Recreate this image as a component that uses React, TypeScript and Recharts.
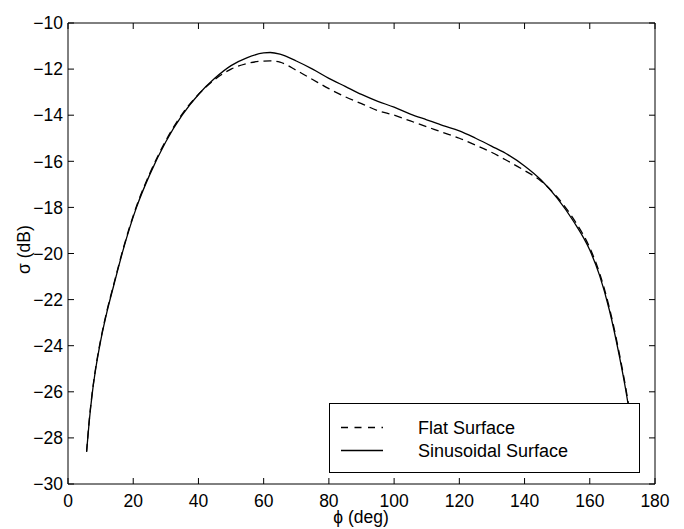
import React from 'react'
import { LineChart, Line, XAxis, YAxis } from 'recharts'

// Sinusoidal surface (solid)
const phiSin = [5.7, 6.5, 7.5, 8.5, 10, 12, 14, 17, 21, 25, 30, 35, 40, 45, 50, 55, 60, 62, 65, 70, 75, 80, 85, 90, 95, 100, 105, 110, 115, 120, 125, 130, 135, 140, 145, 150, 155, 160, 163, 166, 169, 171, 172, 173, 174]
const sigmaSin = [-28.6, -27.3, -26.0, -25.0, -23.8, -22.5, -21.4, -19.8, -18.0, -16.6, -15.15, -14.0, -13.1, -12.4, -11.85, -11.5, -11.3, -11.28, -11.35, -11.65, -12.0, -12.4, -12.75, -13.1, -13.4, -13.65, -13.95, -14.2, -14.45, -14.68, -15.0, -15.35, -15.72, -16.2, -16.8, -17.6, -18.6, -19.85, -20.95, -22.45, -24.4, -25.9, -26.75, -27.6, -28.5]

// Flat surface (dashed)
const phiFlat = [5.7, 6.5, 7.5, 8.5, 10, 12, 14, 17, 21, 25, 30, 35, 40, 45, 50, 55, 60, 62, 65, 70, 75, 80, 85, 90, 95, 100, 105, 110, 115, 120, 125, 130, 135, 140, 145, 150, 155, 160, 163, 166, 169, 171, 172, 173, 174]
const sigmaFlat = [-28.6, -27.25, -25.95, -24.95, -23.75, -22.45, -21.35, -19.75, -17.95, -16.55, -15.1, -13.95, -13.1, -12.45, -12.0, -11.75, -11.65, -11.64, -11.7, -12.05, -12.45, -12.85, -13.2, -13.5, -13.8, -14.0, -14.25, -14.5, -14.75, -15.0, -15.3, -15.62, -16.0, -16.4, -16.85, -17.55, -18.5, -19.75, -20.85, -22.35, -24.3, -25.8, -26.65, -27.5, -28.4]

const xTicks = [0, 20, 40, 60, 80, 100, 120, 140, 160, 180]
const yTicks = [-30, -28, -26, -24, -22, -20, -18, -16, -14, -12, -10]

const sinData = phiSin.map((phi, i) => ({ phi, sigma: sigmaSin[i] }))
const flatData = phiFlat.map((phi, i) => ({ phi, sigma: sigmaFlat[i] }))

const FONT = '"Liberation Sans", Arial, Helvetica, sans-serif'
const fmt = (v: number) => String(v).replace('-', '\u2212')
const tickStyle = { fontSize: 17.5, fill: '#000' }
const noLabel = () => <g />

const XLabel = ({ viewBox }: any) => (
  <text x={361} y={viewBox.y + 39} textAnchor="middle" fontSize={17.5} fill="#000">ϕ (deg)</text>
)

const YLabel = ({ viewBox }: any) => {
  const cy = viewBox.y + viewBox.height / 2 - 4
  return (
    <text x={30} y={cy} textAnchor="middle" fontSize={17.5} fill="#000" transform={`rotate(-90, 30, ${cy})`}>
      σ (dB)
    </text>
  )
}

export default function App() {
  return (
    <div style={{ position: 'absolute', left: 0, top: 0, width: 684, height: 529, background: '#fff', fontFamily: FONT }}>
      <LineChart width={684} height={529} margin={{ top: 22, right: 28, left: 0, bottom: 0 }} style={{ fontFamily: FONT }}>
        <XAxis
          type="number"
          dataKey="phi"
          domain={[0, 180]}
          ticks={xTicks}
          height={45}
          stroke="#000"
          tickSize={-6}
          tickMargin={17}
          tick={tickStyle}
          label={<XLabel />}
        />
        <XAxis
          xAxisId="top"
          orientation="top"
          type="number"
          dataKey="phi"
          domain={[0, 180]}
          ticks={xTicks}
          height={1}
          stroke="#000"
          tickSize={-6}
          tick={noLabel}
        />
        <YAxis
          type="number"
          domain={[-30, -10]}
          ticks={yTicks}
          width={68}
          stroke="#000"
          tickSize={-6}
          tickMargin={11}
          tick={tickStyle}
          tickFormatter={fmt}
          label={<YLabel />}
        />
        <YAxis
          yAxisId="right"
          orientation="right"
          type="number"
          domain={[-30, -10]}
          ticks={yTicks}
          width={1}
          stroke="#000"
          tickSize={-6}
          tick={noLabel}
        />
        <Line
          data={flatData}
          dataKey="sigma"
          yAxisId="right"
          type="monotone"
          stroke="#000"
          strokeWidth={1.3}
          strokeDasharray="8 5"
          dot={false}
          isAnimationActive={false}
        />
        <Line
          data={sinData}
          dataKey="sigma"
          xAxisId="top"
          type="monotone"
          stroke="#000"
          strokeWidth={1.3}
          dot={false}
          isAnimationActive={false}
        />
      </LineChart>

      {/* Legend */}
      <div style={{
        position: 'absolute', left: 329, top: 403, width: 309, height: 68,
        background: '#fff', border: '1px solid #000', fontSize: 18, color: '#000',
      }}>
        <LegendRow top={13} label="Flat Surface" dashed />
        <LegendRow top={36} label="Sinusoidal Surface" />
      </div>
    </div>
  )
}

function LegendRow({ top, label, dashed }: { top: number; label: string; dashed?: boolean }) {
  return (
    <div style={{ position: 'absolute', left: 0, top, height: 22 }}>
      <svg style={{ position: 'absolute', left: 11, top: 9 }} width={42} height={3}>
        <line x1={0} y1={1.5} x2={42} y2={1.5} stroke="#000" strokeWidth={1.3} strokeDasharray={dashed ? '7 6.5' : undefined} />
      </svg>
      <span style={{ position: 'absolute', left: 88, top: 0, whiteSpace: 'nowrap', lineHeight: '22px' }}>{label}</span>
    </div>
  )
}
